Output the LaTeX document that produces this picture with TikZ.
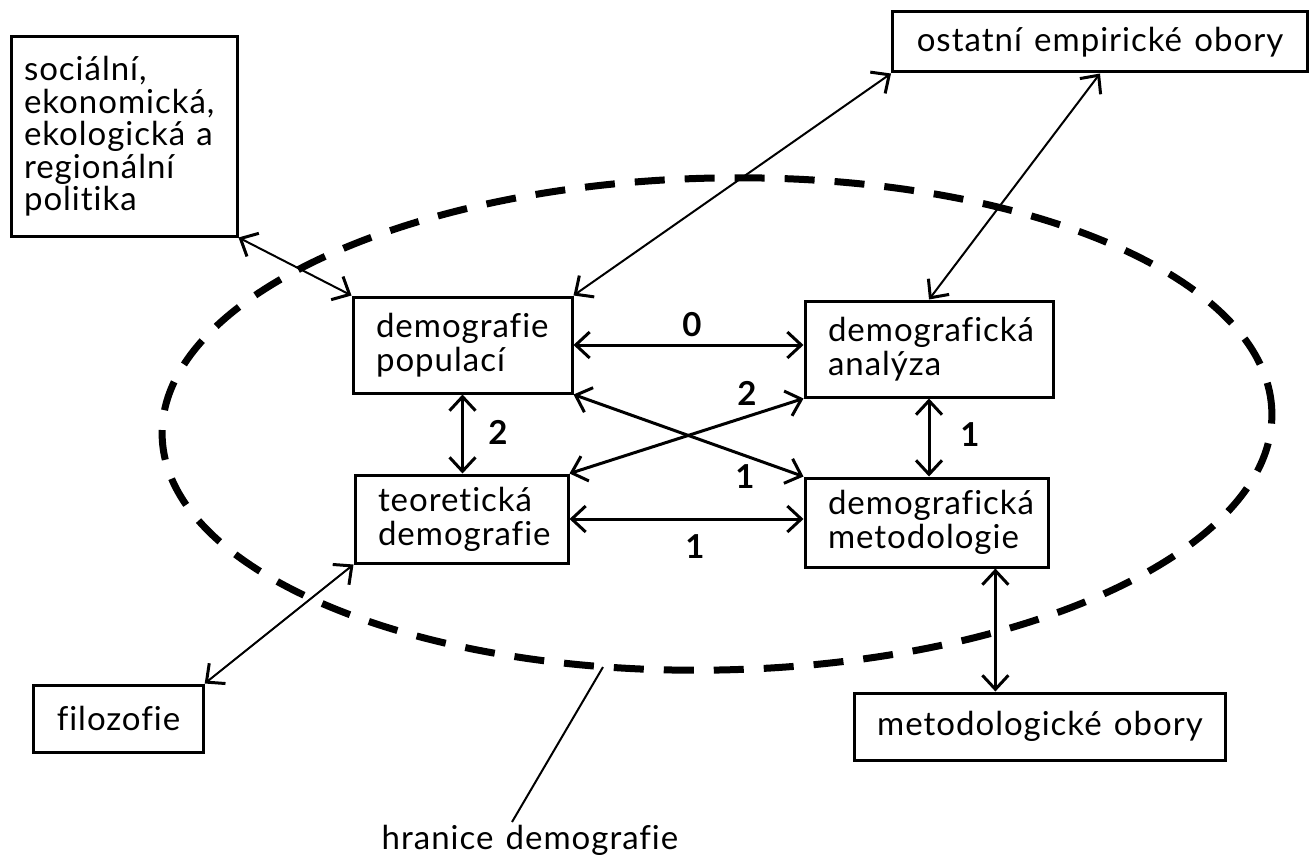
\documentclass[tikz,border=0pt]{standalone}
\usepackage{fontspec}
\setmainfont{Lato}[Ligatures={NoCommon}, LetterSpace=3, WordSpace=1.3]
\usetikzlibrary{arrows.meta,calc}
\begin{document}
\begin{tikzpicture}[x=1pt,y=-1pt,
  box/.style={draw, line width=3pt, inner xsep=23pt, inner ysep=0pt,
    font=\fontsize{33}{34}\selectfont},
  lbox/.style={box, align=left},
  cbox/.style={box, align=center},
  arr/.style={line width=3pt, {Straight Barb[length=14pt,width=26pt]}-{Straight Barb[length=14pt,width=26pt]}},
  tarr/.style={line width=2pt, {Straight Barb[length=14pt,width=26pt,line width=3pt]}-{Straight Barb[length=14pt,width=26pt,line width=3pt]}},
  lab/.style={font=\fontsize{33}{33}\selectfont\bfseries, inner sep=0pt},
  bound/.style={line width=7pt, dash pattern=on 30pt off 20pt}
]
\useasboundingbox (0,0) rectangle (1311,864);

% boundary ellipse
\draw[bound, rotate around={1.2:(717,424)}] (717,424) ellipse [x radius=555pt, y radius=246pt];

% nodes
\node[lbox, minimum width=226pt, minimum height=199pt, inner xsep=13pt, text width=200pt,
  font=\fontsize{33}{32.5}\selectfont] (soc) at (124,136.5)
  {sociální,\\ekonomická,\\ekologická a\\regionální\\politika};
\node[cbox, minimum width=415pt, minimum height=60pt] (ost) at (1100,42) {ostatní empirické obory};
\node[lbox, minimum width=219pt, minimum height=96pt, text width=173pt] (pop) at (462.5,345) {demografie\\populací};
\node[lbox, minimum width=248pt, minimum height=96pt, text width=202pt] (ana) at (929,349) {demografická\\analýza};
\node[lbox, minimum width=213pt, minimum height=88pt, text width=167pt] (teo) at (461.5,519) {teoretická\\demografie};
\node[lbox, minimum width=243pt, minimum height=89pt, text width=197pt] (met) at (926.5,522.5) {demografická\\metodologie};
\node[cbox, minimum width=167pt, minimum height=67pt] (fil) at (118.5,718.5) {filozofie};
\node[cbox, minimum width=364pt, minimum height=67pt] (mob) at (1040,726.5) {metodologické obory};
\node[font=\fontsize{33}{33}\selectfont, inner sep=0pt] (hr) at (530,840) {hranice demografie};

% leader line for the boundary
\coordinate (h1) at (603,667);
\coordinate (h2) at (512,822);
\draw[line width=2pt] (h1) -- (h2);

% inner connectors
\draw[arr] (pop.east) -- (pop.east -| ana.west);
\draw[arr] (pop.south) -- (pop.south |- teo.north);
\draw[arr] (ana.south) -- (ana.south |- met.north);
\draw[arr] (teo.east) -- (teo.east -| met.west);
\draw[arr] (pop.south east) -- (met.north west);
\draw[arr] (teo.north east) -- (ana.south west);
\coordinate (ms) at ($(met.south west)!0.78!(met.south east)$);
\draw[arr] (ms) -- (ms |- mob.north);

% outer connectors
\draw[tarr] (soc.south east) -- (pop.north west);
\draw[tarr] (ost.south west) -- (pop.north east);
\draw[tarr] (ost.south) -- (ana.north);
\draw[tarr] (fil.north east) -- (teo.south west);

% labels
\node[lab] (l0) at (692,325) {0};
\node[lab] (l2a) at (498,432) {2};
\node[lab] (l2b) at (747,393) {2};
\node[lab] (l1a) at (745,477) {1};
\node[lab] (l1b) at (970,435) {1};
\node[lab] (l1c) at (695,547) {1};
\end{tikzpicture}
\end{document}
